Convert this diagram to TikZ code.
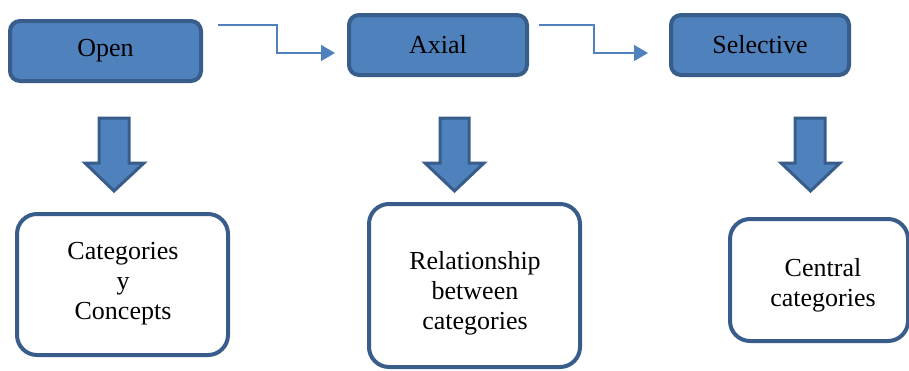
\documentclass[tikz,border=0pt]{standalone}
\usepackage{fontspec}
\setmainfont{Liberation Serif}
\newfontfamily\tms{Liberation Serif}
\usetikzlibrary{arrows.meta}
\definecolor{boxfill}{HTML}{4F81BD}
\definecolor{boxline}{HTML}{385D8A}
\tikzset{
  topbox/.style={draw=boxline, fill=boxfill, line width=4pt, rounded corners=10pt,
    inner sep=0pt, font=\tms\fontsize{26}{30}\selectfont},
  botbox/.style={draw=boxline, fill=white, line width=4pt, rounded corners=20pt,
    inner sep=0pt},
  bottext/.style={align=center, inner sep=0pt, font=\tms\fontsize{26}{30}\selectfont},
  conn/.style={draw=boxfill, line width=1.5pt, -{Triangle[length=14pt,width=16pt]}},
  blockarrow/.style={draw=boxline, fill=boxfill, line width=3pt, line join=miter}
}
\newcommand{\downarrowshape}[5]{% #1 shaft left, #2 shaft right, #3 head left, #4 head right, #5 tip x
  \path[blockarrow] (#1,118) -- (#2,118) -- (#2,163) -- (#4,163) -- (#5,191) -- (#3,163) -- (#1,163) -- cycle;
}
\begin{document}
\begin{tikzpicture}[x=1pt,y=-1pt]
\useasboundingbox (0,0) rectangle (909,370);
\begin{scope}
\clip (0,0) rectangle (909,370);
% top boxes
\node[topbox, minimum width=191pt, minimum height=60pt] (open) at (105.5,51) {Open};
\node[topbox, minimum width=178pt, minimum height=60pt] (axial) at (438,45) {Axial};
\node[topbox, minimum width=178pt, minimum height=60pt] (selective) at (760,45) {Selective};
% connectors
\coordinate (c1s) at (218,25);
\coordinate (c1e) at (335,53);
\coordinate (c2s) at (539,25);
\coordinate (c2e) at (648,53);
\draw[conn] (c1s) -- (277,25) -- (277,53) -- (c1e);
\draw[conn] (c2s) -- (594,25) -- (594,53) -- (c2e);
% block arrows
\downarrowshape{99}{129}{85}{144}{114}
\downarrowshape{440}{469}{425}{484}{454.5}
\downarrowshape{795}{825}{781}{840}{810.5}
% bottom boxes
\node[botbox, minimum width=211pt, minimum height=141pt] (cat) at (122.5,284.5) {};
\node[bottext] (cattext) at (123,284) {Categories\\y\\Concepts};
\node[botbox, minimum width=211pt, minimum height=163pt] (rel) at (474.5,285.5) {};
\node[bottext] (reltext) at (475,293) {Relationship\\between\\categories};
\node[botbox, minimum width=178pt, minimum height=122pt] (cen) at (819,280) {};
\node[bottext] (centext) at (823,285) {Central\\categories};
\end{scope}
\end{tikzpicture}
\end{document}
